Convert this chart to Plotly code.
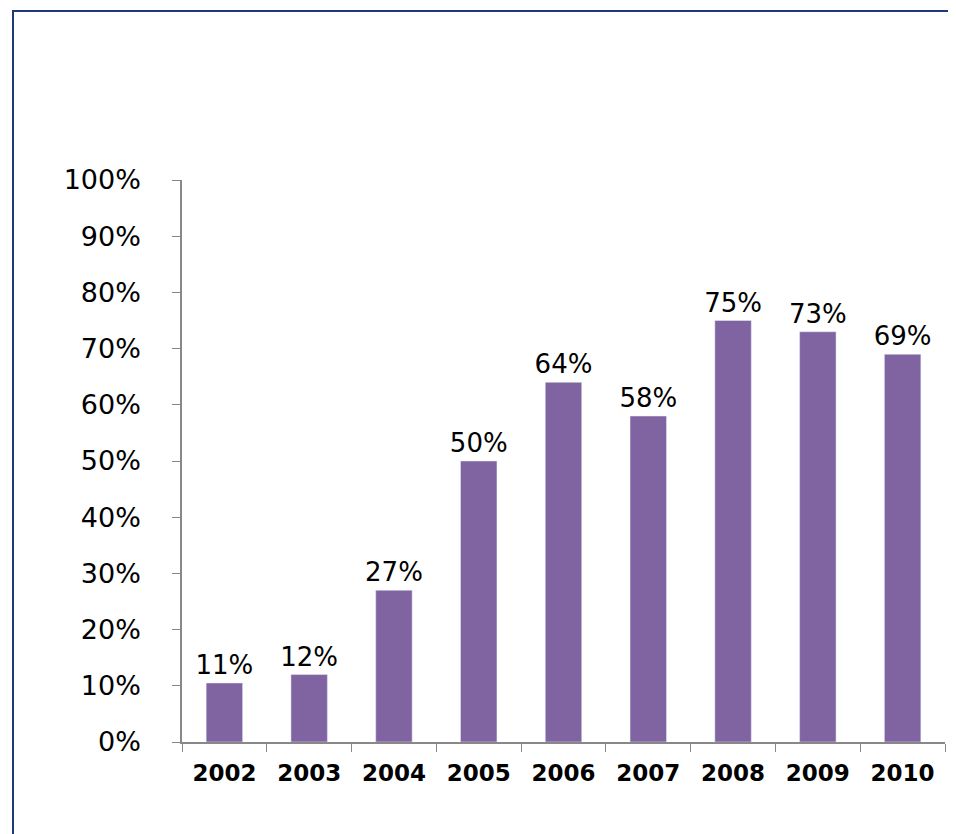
import plotly.graph_objects as go

years = ["2002","2003","2004","2005","2006","2007","2008","2009","2010"]
values = [10.5, 12, 27, 50, 64, 58, 75, 73, 69]
labels = ["11%","12%","27%","50%","64%","58%","75%","73%","69%"]
yticks = list(range(0, 101, 10))

fig = go.Figure(go.Bar(x=years, y=values, text=labels, textposition="outside",
                       textangle=0, constraintext="none",
                       marker_color="#8064A2", cliponaxis=False,
                       textfont=dict(family="DejaVu Sans", size=26, color="black")))
W, H = 956, 834
l, r, t, b = 174, 19, 172, 100
pw, ph = W-l-r, H-t-b
fig.update_layout(
    width=W, height=H, margin=dict(l=l, r=r, t=t, b=b),
    paper_bgcolor="white", plot_bgcolor="white", bargap=0.57, showlegend=False,
    shapes=[dict(type="rect", xref="paper", yref="paper",
                 x0=(5-l)/pw, x1=1.2, y0=-0.5, y1=1+(t-3)/ph,
                 line=dict(color="#1F3A7A", width=2))],
)
fig.update_yaxes(range=[0, 100], tickvals=yticks, ticktext=[f"{v}%" for v in yticks],
                 showgrid=False, showline=True, linecolor="#888", linewidth=1.5,
                 ticks="outside", ticklen=8, tickcolor="#888", zeroline=False,
                 ticklabelstandoff=26,
                 tickfont=dict(family="DejaVu Sans", size=27, color="black"))
fig.update_xaxes(showline=True, linecolor="#888", linewidth=1.5, ticks="outside",
                 tickson="boundaries", ticklen=8, tickcolor="#888",
                 ticklabelstandoff=10,
                 tickfont=dict(family="DejaVu Sans", size=23, color="black"),
                 ticktext=[f"<b>{y}</b>" for y in years], tickvals=years)
fig.write_html("out.html")
